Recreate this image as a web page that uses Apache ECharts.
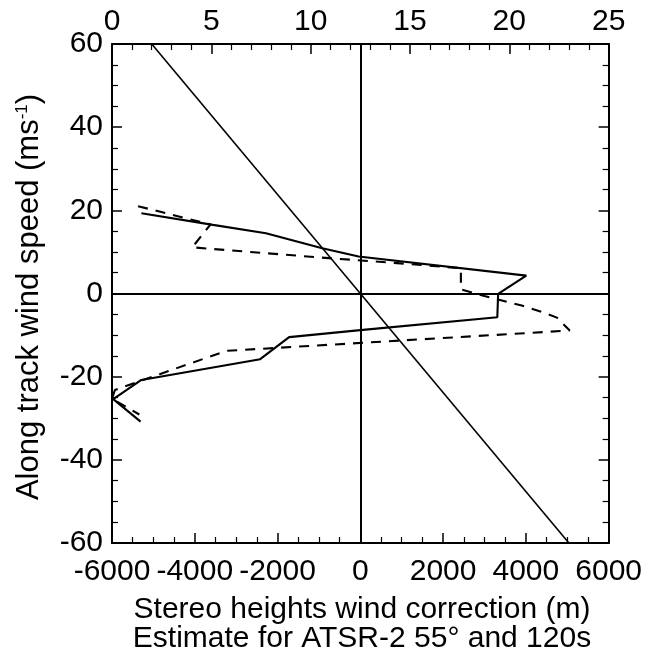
<!DOCTYPE html>
<html>
<head>
<meta charset="utf-8">
<script src="https://cdn.jsdelivr.net/npm/echarts@6/dist/echarts.min.js"></script>
<style>html,body{margin:0;padding:0;background:#fff}#c{width:645px;height:656px}</style>
</head>
<body>
<div id="c"></div>
<script>
// Stereo heights wind correction (m) vs along-track wind speed (m/s)
const solidX = [-5290, -3560, -2280, -920, -40, 4010, 3330, 3310, 0, -1720, -2420, -5290, -5970, -5310];
const solidY = [19.3, 16.5, 14.5, 10.9, 8.9, 4.3, -0.1, -5.7, -8.8, -10.5, -15.8, -20.8, -25.4, -30.8];
const dashX = [-5370, -3620, -4060, -760, 770, 2430, 2430, 3000, 3900, 4400, 4750, 5060, -3240, -4850, -5930, -6000, -5340];
const dashY = [21.0, 16.6, 11.1, 8.5, 7.4, 6.1, 1.0, -0.6, -2.9, -4.5, -5.8, -8.9, -13.8, -19.4, -23.2, -25.3, -29.1];
const diagX = [-5040, 5040];
const diagY = [60, -60];
const bottomTicks = [-6000, 6000, 2000];
const topTicks = [0, 25, 5];
const leftTicks = [-60, 60, 20];

const pairs = (xs, ys) => xs.map((x, i) => [x, ys[i]]);
const FONT = 'Liberation Sans';
const lbl = {color: '#000', fontSize: 30, fontFamily: FONT, formatter: v => String(v)};
const tick = {inside: true, length: 10, lineStyle: {color: '#000', width: 1.5}};
const line = {onZero: false, lineStyle: {color: '#000', width: 2}};

const chart = echarts.init(document.getElementById('c'));
chart.setOption({
  animation: false,
  backgroundColor: '#fff',
  grid: {left: 112, right: 34, top: 44, bottom: 113},
  xAxis: [
    {type: 'value', position: 'bottom', min: bottomTicks[0], max: bottomTicks[1], interval: bottomTicks[2],
     axisLine: line, axisTick: tick,
     minorTick: {show: true, splitNumber: 4, length: 6, lineStyle: {color: '#000', width: 1.2}},
     splitLine: {show: false},
     axisLabel: Object.assign({margin: 14}, lbl)},
    {type: 'value', position: 'top', min: topTicks[0], max: topTicks[1], interval: topTicks[2],
     axisLine: line, axisTick: tick,
     minorTick: {show: true, splitNumber: 5, length: 6, lineStyle: {color: '#000', width: 1.2}},
     splitLine: {show: false},
     axisLabel: Object.assign({margin: 7}, lbl)}
  ],
  yAxis: [
    {type: 'value', position: 'left', min: leftTicks[0], max: leftTicks[1], interval: leftTicks[2],
     axisLine: line, axisTick: tick,
     minorTick: {show: true, splitNumber: 4, length: 6, lineStyle: {color: '#000', width: 1.2}},
     splitLine: {show: false},
     axisLabel: Object.assign({margin: 9}, lbl)},
    {type: 'value', position: 'right', min: leftTicks[0], max: leftTicks[1], interval: leftTicks[2],
     axisLine: line, axisTick: tick,
     minorTick: {show: true, splitNumber: 4, length: 6, lineStyle: {color: '#000', width: 1.2}},
     splitLine: {show: false},
     axisLabel: {show: false}}
  ],
  graphic: [
    {type: 'text', x: 29, y: 297, rotation: Math.PI / 2,
     style: {text: '{a|Along track wind speed (ms}{s|-1}{a|)}', align: 'center', verticalAlign: 'middle',
       rich: {a: {fontSize: 31, fontFamily: FONT, fill: '#000'}, s: {fontSize: 17, fontFamily: FONT, fill: '#000', verticalAlign: 'top', padding: [0, 0, 14, 0]}}}},
    {type: 'text', x: 362, y: 610,
     style: {text: 'Stereo heights wind correction (m)', fontSize: 30, fontFamily: FONT, fill: '#000', align: 'center', verticalAlign: 'middle'}},
    {type: 'text', x: 362, y: 639,
     style: {text: 'Estimate for ATSR-2 55° and 120s', fontSize: 30, fontFamily: FONT, fill: '#000', align: 'center', verticalAlign: 'middle'}}
  ],
  series: [
    {type: 'line', xAxisIndex: 0, yAxisIndex: 0, data: pairs(diagX, diagY), symbol: 'none',
     lineStyle: {color: '#000', width: 1.6},
     markLine: {silent: true, symbol: 'none', label: {show: false},
       lineStyle: {color: '#000', width: 2, type: 'solid'},
       data: [{xAxis: 0}, {yAxis: 0}]}},
    {type: 'line', xAxisIndex: 0, yAxisIndex: 0, data: pairs(solidX, solidY), symbol: 'none',
     lineStyle: {color: '#000', width: 2.1}},
    {type: 'line', xAxisIndex: 0, yAxisIndex: 0, data: pairs(dashX, dashY), symbol: 'none',
     lineStyle: {color: '#000', width: 2.1, type: [10, 8]}}
  ]
});
</script>
</body>
</html>
